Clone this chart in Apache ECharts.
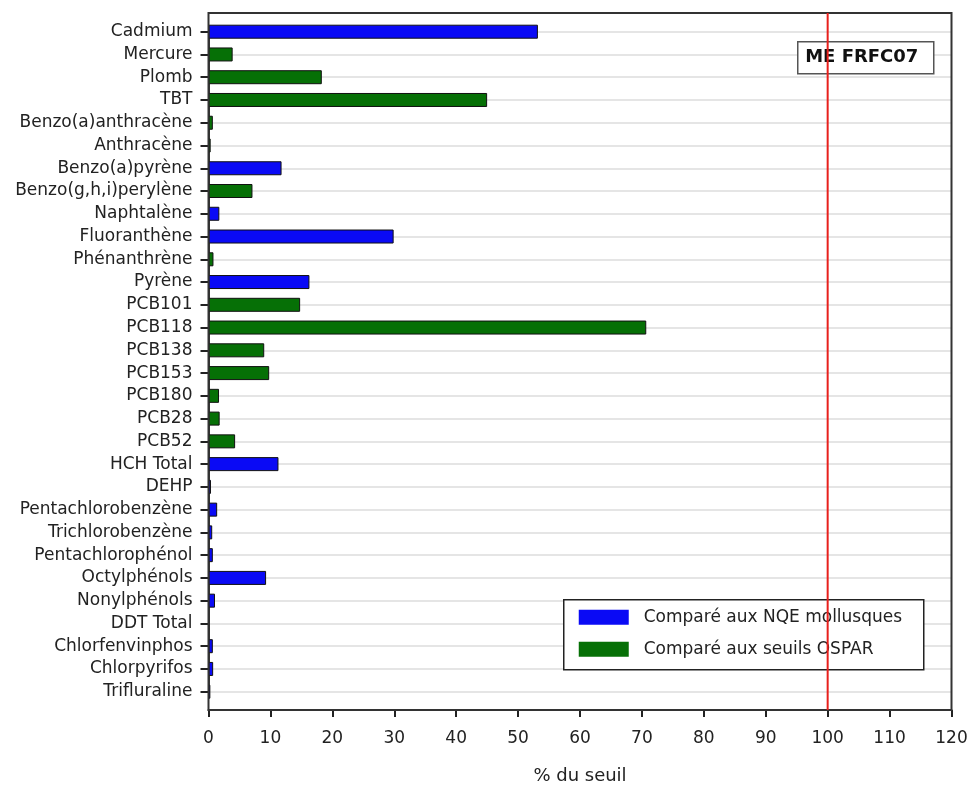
<!DOCTYPE html>
<html>
<head>
<meta charset="utf-8">
<script src="https://cdn.jsdelivr.net/npm/echarts@6/dist/echarts.min.js"></script>
<style>
  html, body { margin: 0; padding: 0; background: #fff; }
  #chart { width: 969px; height: 785px; }
</style>
</head>
<body>
<div id="chart"></div>
<script>
var categories = ['Cadmium', 'Mercure', 'Plomb', 'TBT', 'Benzo(a)anthracène', 'Anthracène',
    'Benzo(a)pyrène', 'Benzo(g,h,i)perylène', 'Naphtalène', 'Fluoranthène', 'Phénanthrène',
    'Pyrène', 'PCB101', 'PCB118', 'PCB138', 'PCB153', 'PCB180', 'PCB28', 'PCB52', 'HCH Total',
    'DEHP', 'Pentachlorobenzène', 'Trichlorobenzène', 'Pentachlorophénol', 'Octylphénols',
    'Nonylphénols', 'DDT Total', 'Chlorfenvinphos', 'Chlorpyrifos', 'Trifluraline'];
var values = [53.2, 3.9, 18.3, 45.0, 0.7, 0.35, 11.8, 7.1, 1.75, 29.9, 0.8, 16.3, 14.8, 70.7,
    9.0, 9.8, 1.7, 1.8, 4.3, 11.3, 0.4, 1.4, 0.6, 0.7, 9.3, 1.05, 0, 0.7, 0.75, 0.3];
// 'N' = NQE mollusques, 'O' = seuils OSPAR
var groups = ['N', 'O', 'O', 'O', 'O', 'O', 'N', 'O', 'N', 'N', 'O', 'N', 'O', 'O', 'O', 'O',
    'O', 'O', 'O', 'N', 'N', 'N', 'N', 'N', 'N', 'N', 'N', 'N', 'N', 'N'];
var xTicks = [0, 10, 20, 30, 40, 50, 60, 70, 80, 90, 100, 110, 120];
var threshold = 100;
var seriesNames = ['Comparé aux NQE mollusques', 'Comparé aux seuils OSPAR'];

var blue = '#0a0af5';
var green = '#067006';
var font = '"DejaVu Sans", Arial, sans-serif';

var frame = { left: 208.5, top: 13, right: 951.5, bottom: 710 };

var myChart = echarts.init(document.getElementById('chart'));

function pick(g) {
    return values.map(function (v, i) { return groups[i] === g ? v : '-'; });
}

var option = {
    animation: false,
    textStyle: { fontFamily: font },
    grid: {
        left: 208.5, right: 969 - 951.5, top: 31.7, bottom: 785 - 691.7,
        containLabel: false, outerBoundsMode: 'none'
    },
    xAxis: {
        type: 'value',
        min: 0,
        max: 120,
        interval: 10,
        offset: frame.bottom - 691.7,
        axisLine: { show: true, lineStyle: { color: '#333', width: 2 } },
        axisTick: { show: true, inside: false, length: 7, lineStyle: { color: '#222', width: 2 } },
        axisLabel: { color: '#222', fontSize: 17, margin: 20,
            formatter: function (v) { return xTicks.indexOf(v) >= 0 ? String(v) : ''; } },
        splitLine: { show: false },
        name: '% du seuil',
        nameLocation: 'middle',
        nameGap: 57,
        nameTextStyle: { color: '#222', fontSize: 18 }
    },
    yAxis: {
        type: 'category',
        inverse: true,
        boundaryGap: false,
        data: categories,
        axisLine: { show: true, lineStyle: { color: '#333', width: 2 } },
        axisTick: { show: true, inside: false, interval: 0, length: 8, lineStyle: { color: '#222', width: 2 } },
        axisLabel: { color: '#222', fontSize: 17, margin: 16, interval: 0 },
        splitLine: { show: true, interval: 0, lineStyle: { color: '#dcdcdc', width: 1.5 } }
    },
    legend: { show: false },
    series: [
        {
            name: seriesNames[0],
            type: 'bar',
            stack: 'all',
            barWidth: 14,
            data: pick('N'),
            itemStyle: { color: blue, borderColor: '#111', borderWidth: 1 }
        },
        {
            name: seriesNames[1],
            type: 'bar',
            stack: 'all',
            barWidth: 14,
            data: pick('O'),
            itemStyle: { color: green, borderColor: '#111', borderWidth: 1 }
        }
    ]
};

myChart.setOption(option);

var xRed = myChart.convertToPixel({ xAxisIndex: 0 }, threshold);

myChart.setOption({
    graphic: [
        {
            type: 'rect', z: 50, silent: true,
            shape: { x: frame.left, y: frame.top, width: frame.right - frame.left, height: frame.bottom - frame.top },
            style: { fill: null, stroke: '#333', lineWidth: 2 }
        },
        {
            type: 'line', z: 51, silent: true,
            shape: { x1: xRed, y1: frame.top, x2: xRed, y2: frame.bottom },
            style: { stroke: '#e8201c', lineWidth: 2 }
        },
        // station label
        {
            type: 'group', z: 60, left: 797, top: 41,
            children: [
                { type: 'rect', shape: { x: 0, y: 0, width: 136, height: 32 },
                  style: { fill: '#fff', stroke: '#555', lineWidth: 1.5 } },
                { type: 'text', x: 64, y: 16,
                  style: { text: 'ME FRFC07', fill: '#111', font: 'bold 18px ' + font,
                           align: 'center', verticalAlign: 'middle' } }
            ]
        },
        // legend
        {
            type: 'group', z: 60, left: 563, top: 599,
            children: [
                { type: 'rect', shape: { x: 0, y: 0, width: 360, height: 70 },
                  style: { fill: '#fff', stroke: '#222', lineWidth: 1.5 } },
                { type: 'rect', shape: { x: 15, y: 10, width: 50, height: 15 }, style: { fill: blue } },
                { type: 'rect', shape: { x: 15, y: 42, width: 50, height: 15 }, style: { fill: green } },
                { type: 'text', x: 80, y: 18,
                  style: { text: seriesNames[0], fill: '#222', font: '17px ' + font,
                           verticalAlign: 'middle' } },
                { type: 'text', x: 80, y: 50,
                  style: { text: seriesNames[1], fill: '#222', font: '17px ' + font,
                           verticalAlign: 'middle' } }
            ]
        }
    ]
});
</script>
</body>
</html>
